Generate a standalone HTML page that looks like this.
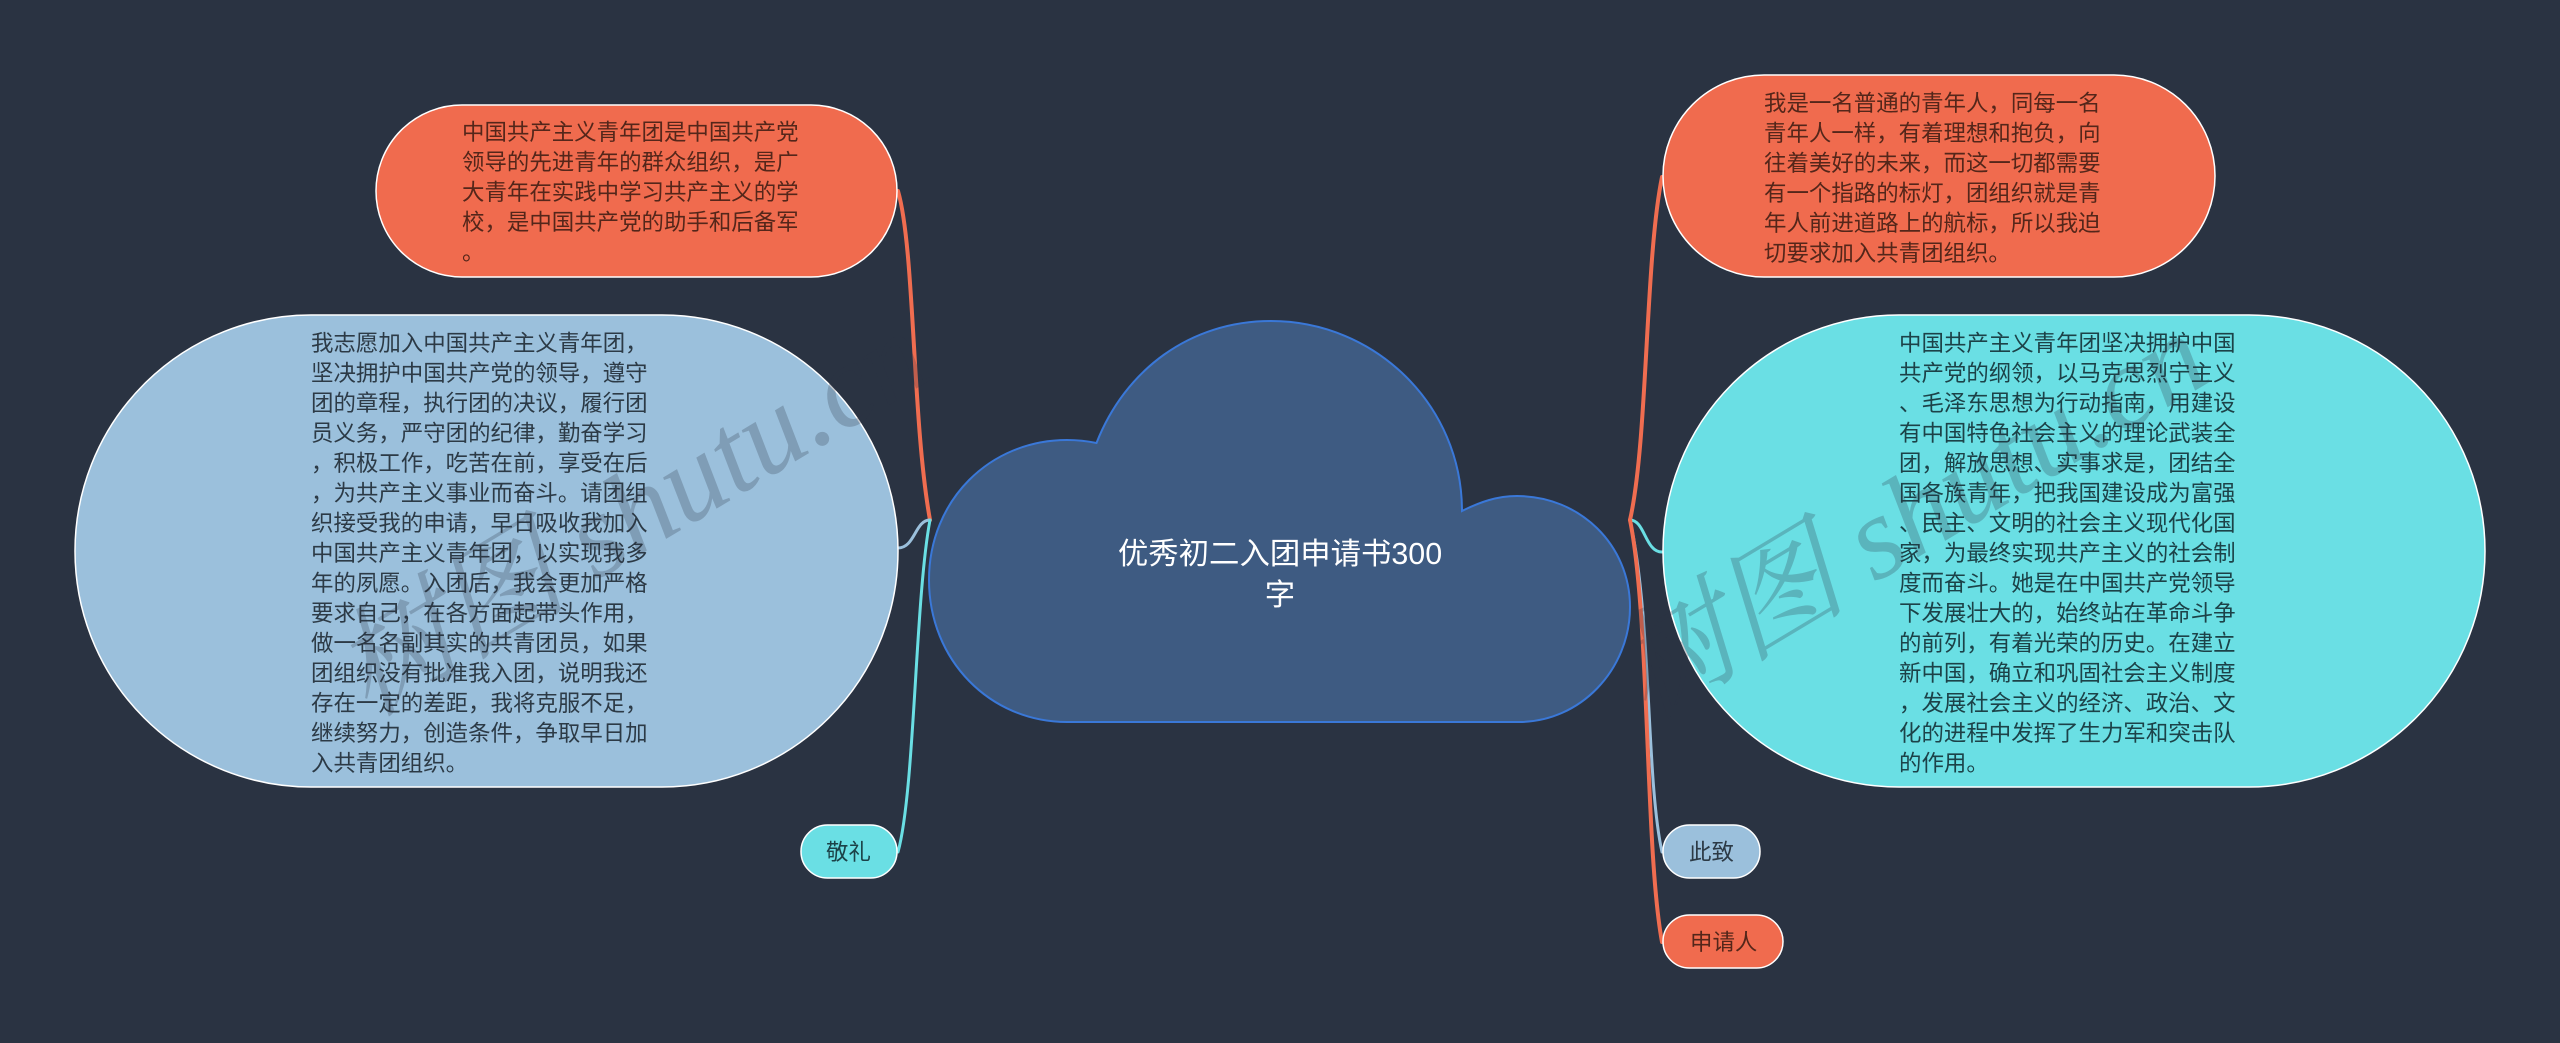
<!DOCTYPE html>
<html lang="zh"><head><meta charset="utf-8"><title>优秀初二入团申请书300字</title>
<style>
html,body{margin:0;padding:0;background:#2a3342;width:2560px;height:1043px;overflow:hidden}
svg{display:block}
text{font-family:"Liberation Sans","Noto Sans CJK SC",sans-serif;font-size:22.45px}
.o text,.o{fill:#54261a}
.b text,.b{fill:#2c3a46}
.c text,.c{fill:#1c4248}
.wm{font-family:"Liberation Serif","Noto Serif CJK SC",serif;font-size:118px;font-style:italic;fill:#2a3342;fill-opacity:.25}
</style></head><body>
<svg width="2560" height="1043" viewBox="0 0 2560 1043" xmlns="http://www.w3.org/2000/svg">
<rect width="2560" height="1043" fill="#2a3342"/>
<g fill="none" stroke-linecap="round">
<path d="M898 191C915 250 912 420 930 520" stroke="#f06d50" stroke-width="4"/>
<path d="M898 548C915 548 915 520 930 520" stroke="#9bc0dc" stroke-width="3"/>
<path d="M930 520C915 600 915 790 898 852" stroke="#6adfe4" stroke-width="3"/>
<path d="M1630 520C1648 440 1645 260 1662 177" stroke="#f06d50" stroke-width="4"/>
<path d="M1630 520C1645 520 1645 552 1662 552" stroke="#6adfe4" stroke-width="3"/>
<path d="M1630 520C1652 620 1646 780 1662 852" stroke="#9bc0dc" stroke-width="3"/>
<path d="M1630 520C1650 620 1645 850 1662 942" stroke="#f06d50" stroke-width="4"/>
</g>
<path d="M1067 722C990 722 929 660 929 580C929 500 990 440 1067 440Q1082 440 1096.5 443C1125 370 1190 321 1271 321C1375 321 1462 405 1462 511C1480 502 1497 496 1517 496C1580 496 1630 545 1630 607C1630 670 1580 722 1519 722Z" fill="#3e5b82" stroke="#3a78d8" stroke-width="2"/>
<text x="1280" y="564" text-anchor="middle" style="font-size:30.4px;fill:#fff">优秀初二入团申请书300</text>
<text x="1280" y="605" text-anchor="middle" style="font-size:30.4px;fill:#fff">字</text>

<g stroke="#fff" stroke-width="1.5">
<rect x="376" y="105" width="521" height="172" rx="86" fill="#f06b4e"/>
<rect x="75" y="315" width="823" height="472" rx="236" fill="#9bc0dc"/>
<rect x="1663" y="75" width="552" height="202" rx="101" fill="#f06b4e"/>
<rect x="1663" y="315" width="822" height="472" rx="236" fill="#6adfe4"/>
<rect x="801" y="825" width="96" height="53" rx="26.5" fill="#6adfe4"/>
<rect x="1663" y="825" width="97" height="53" rx="26.5" fill="#9bc0dc"/>
<rect x="1663" y="915" width="120" height="53" rx="26.5" fill="#f06b4e"/>
</g>

<g class="o">
<text x="462" y="140">中国共产主义青年团是中国共产党</text>
<text x="462" y="170">领导的先进青年的群众组织，是广</text>
<text x="462" y="200">大青年在实践中学习共产主义的学</text>
<text x="462" y="230">校，是中国共产党的助手和后备军</text>
<text x="462" y="260">。</text>
</g>
<g class="b">
<text x="311" y="351">我志愿加入中国共产主义青年团，</text>
<text x="311" y="381">坚决拥护中国共产党的领导，遵守</text>
<text x="311" y="411">团的章程，执行团的决议，履行团</text>
<text x="311" y="441">员义务，严守团的纪律，勤奋学习</text>
<text x="311" y="471">，积极工作，吃苦在前，享受在后</text>
<text x="311" y="501">，为共产主义事业而奋斗。请团组</text>
<text x="311" y="531">织接受我的申请，早日吸收我加入</text>
<text x="311" y="561">中国共产主义青年团，以实现我多</text>
<text x="311" y="591">年的夙愿。入团后，我会更加严格</text>
<text x="311" y="621">要求自己，在各方面起带头作用，</text>
<text x="311" y="651">做一名名副其实的共青团员，如果</text>
<text x="311" y="681">团组织没有批准我入团，说明我还</text>
<text x="311" y="711">存在一定的差距，我将克服不足，</text>
<text x="311" y="741">继续努力，创造条件，争取早日加</text>
<text x="311" y="771">入共青团组织。</text>
</g>
<g class="o">
<text x="1764" y="111">我是一名普通的青年人，同每一名</text>
<text x="1764" y="141">青年人一样，有着理想和抱负，向</text>
<text x="1764" y="171">往着美好的未来，而这一切都需要</text>
<text x="1764" y="201">有一个指路的标灯，团组织就是青</text>
<text x="1764" y="231">年人前进道路上的航标，所以我迫</text>
<text x="1764" y="261">切要求加入共青团组织。</text>
</g>
<g class="c">
<text x="1899" y="351">中国共产主义青年团坚决拥护中国</text>
<text x="1899" y="381">共产党的纲领，以马克思烈宁主义</text>
<text x="1899" y="411">、毛泽东思想为行动指南，用建设</text>
<text x="1899" y="441">有中国特色社会主义的理论武装全</text>
<text x="1899" y="471">团，解放思想、实事求是，团结全</text>
<text x="1899" y="501">国各族青年，把我国建设成为富强</text>
<text x="1899" y="531">、民主、文明的社会主义现代化国</text>
<text x="1899" y="561">家，为最终实现共产主义的社会制</text>
<text x="1899" y="591">度而奋斗。她是在中国共产党领导</text>
<text x="1899" y="621">下发展壮大的，始终站在革命斗争</text>
<text x="1899" y="651">的前列，有着光荣的历史。在建立</text>
<text x="1899" y="681">新中国，确立和巩固社会主义制度</text>
<text x="1899" y="711">，发展社会主义的经济、政治、文</text>
<text x="1899" y="741">化的进程中发挥了生力军和突击队</text>
<text x="1899" y="771">的作用。</text>
</g>
<text class="c" x="826" y="860">敬礼</text>
<text class="b" x="1689" y="860">此致</text>
<text class="o" x="1690" y="950">申请人</text>

<text class="wm" transform="translate(1647 720) rotate(-31)">树图 shutu.cn</text>
<text class="wm" transform="translate(368 718) rotate(-31)">树图 shutu.cn</text>
</svg>
</body></html>
